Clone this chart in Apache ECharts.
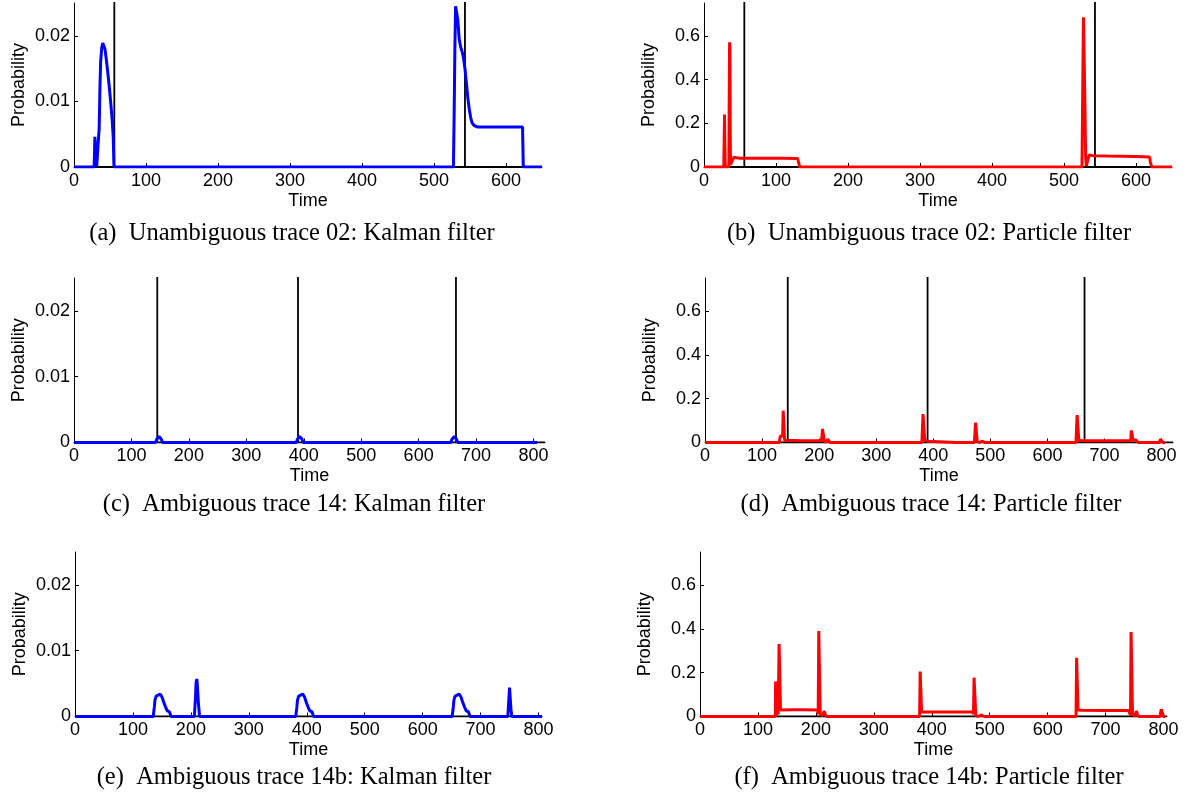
<!DOCTYPE html>
<html>
<head>
<meta charset="utf-8">
<script src="https://cdn.jsdelivr.net/npm/echarts@6/dist/echarts.min.js"></script>
<style>
html,body{margin:0;padding:0;background:#fff;}
#chart{width:1188px;height:796px;}
</style>
</head>
<body>
<div id="chart"></div>
<script>
// ---------- data ----------
const xTicks650 = [0, 100, 200, 300, 400, 500, 600];
const xTicks800 = [0, 100, 200, 300, 400, 500, 600, 700, 800];
const yTicksKalman = [0, 0.01, 0.02];
const yTicksParticle = [0, 0.2, 0.4, 0.6];

const captions = [
  "(a)  Unambiguous trace 02: Kalman filter",
  "(b)  Unambiguous trace 02: Particle filter",
  "(c)  Ambiguous trace 14: Kalman filter",
  "(d)  Ambiguous trace 14: Particle filter",
  "(e)  Ambiguous trace 14b: Kalman filter",
  "(f)  Ambiguous trace 14b: Particle filter"
];

// ground truth (black)
const truth02 = [[0,0],[56,0],[56,1],[56,0],[543,0],[543,1],[543,0],[650,0]];
const truth14 = [[0,0],[145,0],[145,1],[145,0],[390,0],[390,1],[390,0],[665,0],[665,1],[665,0],[820,0]];
const truth14b = [[0,0],[806,0]];

// (a) Kalman filter, trace 02
const kalman02 = [[0,0],[28,0],[29,0.0046],[30.5,0.0047],[31.5,0],[34,0],[35,0.006],[36,0.012],[37,0.016],[38.5,0.0182],[40,0.0189],[41.5,0.0188],[43,0.018],[45,0.0163],[47,0.0143],[49,0.0122],[51,0.0098],[53,0.0072],[54.5,0.0045],[55.5,0],[60,0],
  [527,0],[528,0.008],[529,0.018],[530,0.0245],[531,0.0248],[533,0.0225],[535,0.0195],[537,0.0183],[539,0.0176],[541,0.0166],[543,0.015],[545,0.0128],[547,0.0105],[549,0.0088],[551,0.0075],[553,0.0067],[556,0.0063],[560,0.0061],[590,0.0061],[623,0.0061],[624,0],[628,0],[650,0]];

// (b) Particle filter, trace 02
const particle02 = [[0,0],[27.5,0],[28,0.12],[28.5,0.24],[29,0.1],[29.5,0],[34.5,0],[35,0.3],[35.5,0.57],[36,0.55],[36.5,0.1],[37,0.01],[38,0.02],[40,0.035],[42,0.045],[45,0.042],[50,0.04],[80,0.04],[110,0.04],[130,0.039],[131,0.03],[133,0],[137,0],
  [525,0],[526,0.35],[527,0.685],[528,0.68],[529,0.3],[530,0.05],[531,0.005],[533,0.03],[535,0.055],[540,0.052],[560,0.05],[600,0.048],[619,0.046],[620,0.02],[622,0],[626,0],[628,0.008],[630,0],[634,0],[650,0]];

// (c) Kalman filter, trace 14
const kalman14 = [[0,0],[142,0],[144,0.0005],[146,0.0008],[148,0.0009],[150,0.0008],[152,0.0005],[154,0],[158,0],
  [387,0],[389,0.0005],[391,0.0008],[393,0.0009],[395,0.0008],[397,0.0005],[399,0],[403,0],
  [656,0],[658,0.0005],[660,0.0008],[662,0.0009],[664,0.0008],[666,0.0005],[668,0],[672,0],[806,0]];

// (d) Particle filter, trace 14
const particle14 = [[0,0],[130,0],[132,0.03],[134,0.035],[136,0.03],[137,0.145],[138.5,0.145],[139.5,0.01],[141,0.008],[170,0.008],[204,0.008],[205,0.03],[206,0.062],[208,0.06],[209,0.005],[213,0.003],[215,0.015],[217,0.015],[219,0],[223,0],
  [380,0],[382,0.13],[384,0.128],[385,0.01],[390,0.006],[400,0.004],[420,0.002],[440,0],[472,0],[474,0.09],[476,0.088],[477,0.005],[481,0],[483,0],[485,0.006],[487,0],[491,0],
  [650,0],[652,0.125],[654,0.125],[655,0.01],[660,0.008],[700,0.008],[746,0.008],[747,0.055],[749,0.054],[750,0.01],[755,0.012],[757,0.012],[759,0],[763,0],[796,0],[798,0.015],[800,0.014],[802,0],[806,0]];

// (e) Kalman filter, trace 14b
const kalman14b = [[0,0],[135,0],[137,0.0015],[138,0.0025],[140,0.0031],[143,0.0034],[147,0.0034],[150,0.003],[153,0.0022],[156,0.0015],[159,0.0009],[163,0.0007],[166,0],[170,0],
  [206,0],[208,0.003],[209,0.0052],[210.5,0.0057],[212,0.0054],[213,0.002],[215,0],[219,0],
  [381,0],[383,0.0015],[384,0.0025],[386,0.0031],[389,0.0034],[393,0.0034],[396,0.003],[399,0.0022],[402,0.0015],[405,0.0009],[409,0.0007],[412,0],[416,0],
  [651,0],[653,0.0015],[654,0.0025],[656,0.0031],[659,0.0034],[663,0.0034],[666,0.003],[669,0.0022],[672,0.0015],[675,0.0009],[679,0.0007],[682,0],[686,0],
  [747,0],[749,0.003],[750,0.0044],[751.5,0.0043],[752.5,0.001],[754,0],[758,0],[806,0]];

// (f) Particle filter, trace 14b
const particle14b = [[0,0],[130,0],[130.5,0.16],[131.5,0.165],[132.5,0.02],[135,0.01],[136.5,0.33],[138,0.325],[139,0.03],[141,0.033],[160,0.031],[180,0.031],[203,0.03],[204,0.01],[205,0.39],[206.5,0.392],[207.5,0.01],[210,0.005],[212,0.005],[214,0.025],[216,0.02],[218,0],[222,0],[249,0],[251,0.006],[253,0],[257,0],
  [379,0],[380,0.205],[381.5,0.2],[382.5,0.02],[390,0.02],[430,0.02],[471,0.02],[472,0.01],[473,0.177],[475,0.175],[476,0.005],[480,0],[483,0],[485,0.007],[487,0],[491,0],
  [649,0],[650,0.268],[651.5,0.265],[652.5,0.03],[660,0.028],[700,0.027],[740,0.027],[743,0.005],[744,0.385],[745.5,0.382],[746.5,0.01],[751,0.002],[753,0.025],[755,0.01],[757,0],[761,0],[794,0],[796,0.033],[798,0.03],[800,0],[803,0]];

// ---------- layout ----------
const panels = [
  {grid:{left:74, top:3, width:468, height:164}, xMax:650, xTicks:xTicks650, yMax:0.025, yTicks:yTicksKalman, truth:truth02, est:kalman02, color:'#0000ff', cap:[292,234]},
  {grid:{left:704, top:3, width:468, height:164}, xMax:650, xTicks:xTicks650, yMax:0.75, yTicks:yTicksParticle, truth:truth02, est:particle02, color:'#ff0000', cap:[929,234]},
  {grid:{left:74, top:278, width:471, height:164.5}, xMax:820, xTicks:xTicks800, yMax:0.025, yTicks:yTicksKalman, truth:truth14, est:kalman14, color:'#0000ff', cap:[294,505]},
  {grid:{left:705, top:278, width:468, height:164.5}, xMax:820, xTicks:xTicks800, yMax:0.75, yTicks:yTicksParticle, truth:truth14, est:particle14, color:'#ff0000', cap:[931,505]},
  {grid:{left:75, top:552, width:467, height:164.5}, xMax:806, xTicks:xTicks800, yMax:0.025, yTicks:yTicksKalman, truth:truth14b, est:kalman14b, color:'#0000ff', cap:[294,778]},
  {grid:{left:700, top:552, width:467, height:164.5}, xMax:806, xTicks:xTicks800, yMax:0.75, yTicks:yTicksParticle, truth:truth14b, est:particle14b, color:'#ff0000', cap:[929,778]}
];

const sansFont = 'Liberation Sans';
const fs = 18;

const option = {
  animation:false,
  backgroundColor:'#fff',
  grid:[], xAxis:[], yAxis:[], series:[], graphic:[]
};

panels.forEach((p,i)=>{
  option.grid.push(Object.assign({outerBoundsMode:'none', containLabel:false}, p.grid));
  option.xAxis.push({
    type:'value', gridIndex:i, min:0, max:p.xMax,
    name:'Time', nameLocation:'middle', nameGap:25,
    nameTextStyle:{fontFamily:sansFont, fontSize:fs, color:'#000'},
    axisLine:{show:true, onZero:false, lineStyle:{color:'#000', width:1}},
    axisTick:{show:true, inside:true, length:4, lineStyle:{color:'#000'}, customValues:p.xTicks},
    axisLabel:{show:true, margin:5, fontFamily:sansFont, fontSize:fs, color:'#000', customValues:p.xTicks, formatter:v=>String(v)},
    splitLine:{show:false}
  });
  option.yAxis.push({
    type:'value', gridIndex:i, min:0, max:p.yMax,
    name:'Probability', nameLocation:'middle', nameGap:46, nameRotate:90,
    nameTextStyle:{fontFamily:sansFont, fontSize:fs, color:'#000'},
    axisLine:{show:true, onZero:false, lineStyle:{color:'#000', width:1}},
    axisTick:{show:true, inside:true, length:4, lineStyle:{color:'#000'}, customValues:p.yTicks},
    axisLabel:{show:true, margin:4, fontFamily:sansFont, fontSize:fs, color:'#000', customValues:p.yTicks, formatter:v=>String(v)},
    splitLine:{show:false}
  });
  option.series.push({
    type:'line', xAxisIndex:i, yAxisIndex:i, data:p.truth, showSymbol:false, symbol:'none',
    clip:true, lineStyle:{color:'#000', width:1.8}, z:2, silent:true
  });
  option.series.push({
    type:'line', xAxisIndex:i, yAxisIndex:i, data:p.est, showSymbol:false, symbol:'none',
    clip:true, lineStyle:{color:p.color, width:3}, z:3, silent:true
  });
  option.graphic.push({
    type:'text', x:p.cap[0], y:p.cap[1],
    style:{text:captions[i], fill:'#000', font:'24.5px "Liberation Serif"',
      align:'center', verticalAlign:'middle', textAlign:'center', textVerticalAlign:'middle'}
  });
});

const chart = echarts.init(document.getElementById('chart'), null, {renderer:'canvas'});
chart.setOption(option);
</script>
</body>
</html>
